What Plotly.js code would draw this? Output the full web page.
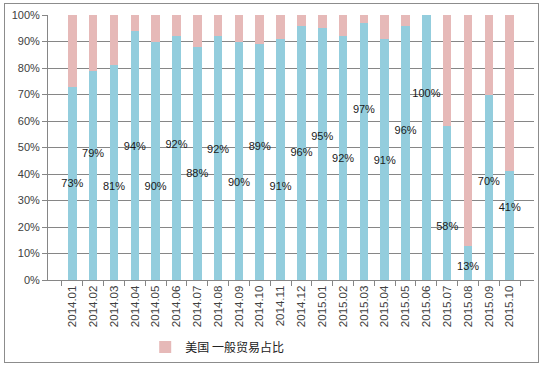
<!DOCTYPE html>
<html>
<head>
<meta charset="utf-8">
<script src="https://cdn.plot.ly/plotly-3.0.1.min.js"></script>
<style>
  html, body { margin: 0; padding: 0; background: #fff; }
  #wrap { position: relative; width: 540px; height: 367px; }
  #chart { width: 540px; height: 367px; }
  #frame { position: absolute; left: 4px; top: 3px; width: 533px; height: 358px;
           border: 1px solid #8c8c8c; pointer-events: none; }
</style>
</head>
<body>
<div id="wrap"><div id="chart"></div><div id="frame"></div></div>
<script>
var categories = ["2014.01","2014.02","2014.03","2014.04","2014.05","2014.06","2014.07","2014.08","2014.09","2014.10","2014.11","2014.12","2015.01","2015.02","2015.03","2015.04","2015.05","2015.06","2015.07","2015.08","2015.09","2015.10"];
var generalTrade = [73,79,81,94,90,92,88,92,90,89,91,96,95,92,97,91,96,100,58,13,70,41];
var otherTrade = generalTrade.map(function(v){ return 100 - v; });
var dataLabels = generalTrade.map(function(v){ return v + "%"; });
var seriesName = "美国 一般贸易占比";

// vertical placement of the value labels (in % units of the axis)
var labelPos = [36,47.5,35,50,35,51,40,49,36.5,50,35,48,54,45.5,64,45,56,70,20,5,37,27];

var traces = [
  { type: "bar", x: categories, y: generalTrade.map(function(v){return v/100;}),
    marker: { color: "#93CDDD" }, showlegend: false, name: "blue" },
  { type: "bar", x: categories, y: otherTrade.map(function(v){return v/100;}),
    marker: { color: "#E6B9B8" }, name: seriesName, showlegend: true },
  { type: "scatter", mode: "text", x: categories, y: labelPos.map(function(v){return v/100;}),
    text: dataLabels, textposition: "middle center", showlegend: false,
    textfont: { family: "Liberation Sans, Arial, sans-serif", size: 11, color: "#1a1a1a" } }
];

var layout = {
  width: 540, height: 367,
  margin: { l: 48, r: 6, t: 15, b: 87 },
  barmode: "stack",
  bargap: 0.59,
  paper_bgcolor: "#ffffff",
  plot_bgcolor: "#ffffff",
  font: { family: "Liberation Sans, Arial, sans-serif", size: 11, color: "#404040" },
  xaxis: {
    type: "category",
    tickangle: -90,
    ticks: "outside", ticklen: 5, tickcolor: "#868686",
    tickson: "boundaries",
    showline: true, linecolor: "#868686", linewidth: 1,
    showgrid: false,
    tickfont: { size: 11.5, color: "#404040" },
    automargin: false,
    fixedrange: true
  },
  yaxis: {
    range: [0, 1],
    tickvals: [0,0.1,0.2,0.3,0.4,0.5,0.6,0.7,0.8,0.9,1],
    ticktext: ["0%","10%","20%","30%","40%","50%","60%","70%","80%","90%","100%"],
    ticks: "outside", ticklen: 5, tickcolor: "#868686",
    showline: true, linecolor: "#868686", linewidth: 1,
    showgrid: true, gridcolor: "#868686", gridwidth: 1,
    zeroline: false,
    tickfont: { size: 11, color: "#404040" },
    automargin: false,
    fixedrange: true
  },
  legend: {
    orientation: "h", x: 0.2, y: -0.253, xanchor: "left", yanchor: "middle",
    font: { family: "Noto Sans CJK SC, sans-serif", size: 12, color: "#222222" },
    itemwidth: 30
  }
};

Plotly.newPlot("chart", traces, layout, { displayModeBar: false, staticPlot: true });
</script>
</body>
</html>
